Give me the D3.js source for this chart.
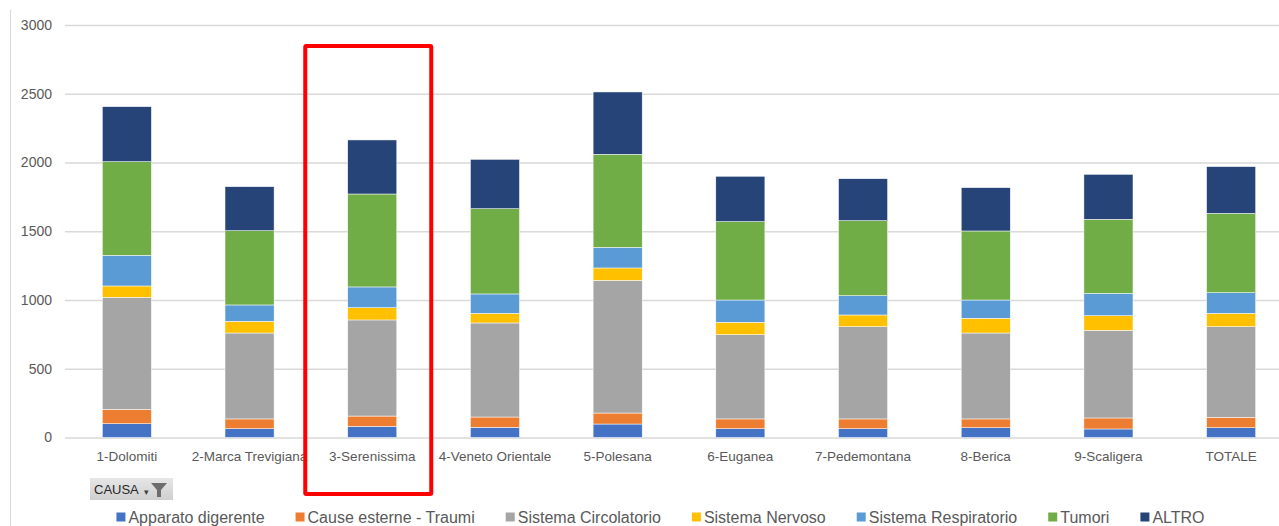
<!DOCTYPE html>
<html>
<head>
<meta charset="utf-8">
<script src="https://cdn.jsdelivr.net/npm/d3@7"></script>
<style>
  body { margin: 0; background: #fff; }
  text { font-family: "Liberation Sans", Arial, sans-serif; }
</style>
</head>
<body>
<div id="chart"></div>
<script>
// Categories (ULSS)
const categories = ["1-Dolomiti", "2-Marca Trevigiana", "3-Serenissima", "4-Veneto Orientale",
  "5-Polesana", "6-Euganea", "7-Pedemontana", "8-Berica", "9-Scaligera", "TOTALE"];

// Series values, one per cause
const apparatoDigerente = [100, 64, 81, 74, 98, 64, 64, 71, 62, 71];
const causeEsterne = [105, 71, 75, 75, 80, 71, 71, 64, 80, 76];
const sistemaCircolatorio = [815, 625, 699, 684, 965, 613, 671, 625, 638, 659];
const sistemaNervoso = [82, 85, 89, 70, 90, 90, 85, 107, 106, 97];
const sistemaRespiratorio = [223, 119, 151, 141, 150, 162, 140, 133, 162, 150];
const tumori = [681, 540, 676, 620, 677, 570, 546, 502, 539, 577];
const altro = [400, 320, 393, 359, 453, 330, 305, 315, 327, 340];

const seriesNames = ["Apparato digerente", "Cause esterne - Traumi", "Sistema Circolatorio",
  "Sistema Nervoso", "Sistema Respiratorio", "Tumori", "ALTRO"];
const seriesValues = [apparatoDigerente, causeEsterne, sistemaCircolatorio,
  sistemaNervoso, sistemaRespiratorio, tumori, altro];
const yTicks = [0, 500, 1000, 1500, 2000, 2500, 3000];
const highlighted = "3-Serenissima";

const width = 1279;
const height = 526;

const svg = d3.select("#chart").append("svg")
  .attr("width", width)
  .attr("height", height);

// Color scale (Office palette)
const color = d3.scaleOrdinal()
  .domain(seriesNames)
  .range(["#4472C4", "#ED7D31", "#A5A5A5", "#FFC000", "#5B9BD5", "#70AD47", "#264478"]);

// Table for stacking
const table = categories.map((c, i) => {
  const row = { cat: c };
  seriesNames.forEach((s, j) => { row[s] = seriesValues[j][i]; });
  return row;
});
const stacked = d3.stack().keys(seriesNames)(table);

// Scales
const x = d3.scaleBand()
  .domain(categories)
  .range([65.5, 1292.5])
  .paddingInner(0.6)
  .paddingOuter(0.3);

const y = d3.scaleLinear()
  .domain([0, 3000])
  .range([437.5, 25]);

// Left border line of the chart area
svg.append("line")
  .attr("x1", 10.5).attr("x2", 10.5)
  .attr("y1", 10).attr("y2", height)
  .attr("stroke", "#d9d9d9");

// Gridlines + y labels
const yAxis = svg.append("g")
  .attr("transform", "translate(65,0)")
  .call(d3.axisLeft(y).tickValues(yTicks).tickFormat(d3.format("d"))
    .tickSize(-(width - 65)).tickPadding(13))
  .call(g => g.select(".domain").remove());
yAxis.attr("font-family", null);
yAxis.selectAll(".tick line").attr("stroke", "#d9d9d9").attr("stroke-width", 1.3);
yAxis.selectAll(".tick text")
  .attr("fill", "#595959")
  .attr("font-size", "14px");

// Bars
svg.append("g")
  .selectAll("g")
  .data(stacked)
  .join("g")
  .attr("fill", d => color(d.key))
  .selectAll("rect")
  .data(d => d)
  .join("rect")
  .attr("x", d => x(d.data.cat))
  .attr("y", d => y(d[1]))
  .attr("height", d => y(d[0]) - y(d[1]))
  .attr("width", x.bandwidth())
  .attr("stroke", "#ffffff")
  .attr("stroke-width", 0.5);

// X labels
const xAxis = svg.append("g")
  .attr("transform", "translate(0,437.5)")
  .call(d3.axisBottom(x).tickSize(0).tickPadding(14))
  .call(g => g.select(".domain").remove());
xAxis.attr("font-family", null);
xAxis.selectAll("text")
  .attr("fill", "#595959")
  .attr("font-size", "13.5px");

// Highlight box around one category
const cx = x(highlighted) + x.bandwidth() / 2;
svg.append("rect")
  .attr("x", cx - 67)
  .attr("y", 46)
  .attr("width", 126)
  .attr("height", 448)
  .attr("fill", "none")
  .attr("stroke", "#ff0000")
  .attr("stroke-width", 4)
  .attr("rx", 1);

// CAUSA field button
const btn = svg.append("g").attr("transform", "translate(90,478)");
const grad = svg.append("defs").append("linearGradient")
  .attr("id", "btnGrad").attr("x1", 0).attr("x2", 0).attr("y1", 0).attr("y2", 1);
grad.append("stop").attr("offset", "0%").attr("stop-color", "#e6e6e6");
grad.append("stop").attr("offset", "100%").attr("stop-color", "#cfcfcf");
btn.append("rect")
  .attr("width", 83).attr("height", 22)
  .attr("fill", "url(#btnGrad)");
btn.append("text")
  .attr("x", 4).attr("y", 16)
  .attr("font-size", "13px")
  .attr("fill", "#262626")
  .text("CAUSA");
btn.append("text")
  .attr("x", 54).attr("y", 17)
  .attr("font-size", "9px")
  .attr("fill", "#404040")
  .text("▾");
btn.append("path")
  .attr("d", "M61,5 L77,5 L71,12 L71,19 L67,19 L67,12 Z")
  .attr("fill", "#6d6d6d");

// Legend
const legend = svg.append("g").attr("transform", "translate(0,523)");
const items = legend.selectAll("g")
  .data(seriesNames)
  .join("g");
items.append("rect")
  .attr("y", -10.5)
  .attr("width", 9).attr("height", 9)
  .attr("fill", d => color(d));
items.append("text")
  .attr("x", 12)
  .attr("y", 0)
  .attr("font-size", "16px")
  .attr("fill", "#595959")
  .text(d => d);
const gap = 31;
let lx = 0;
const pos = [];
items.each(function () {
  pos.push(lx);
  lx += 12 + d3.select(this).select("text").node().getComputedTextLength() + gap;
});
const startX = (width - (lx - gap)) / 2 + 21;
items.attr("transform", (d, i) => `translate(${startX + pos[i]},0)`);
</script>
</body>
</html>
